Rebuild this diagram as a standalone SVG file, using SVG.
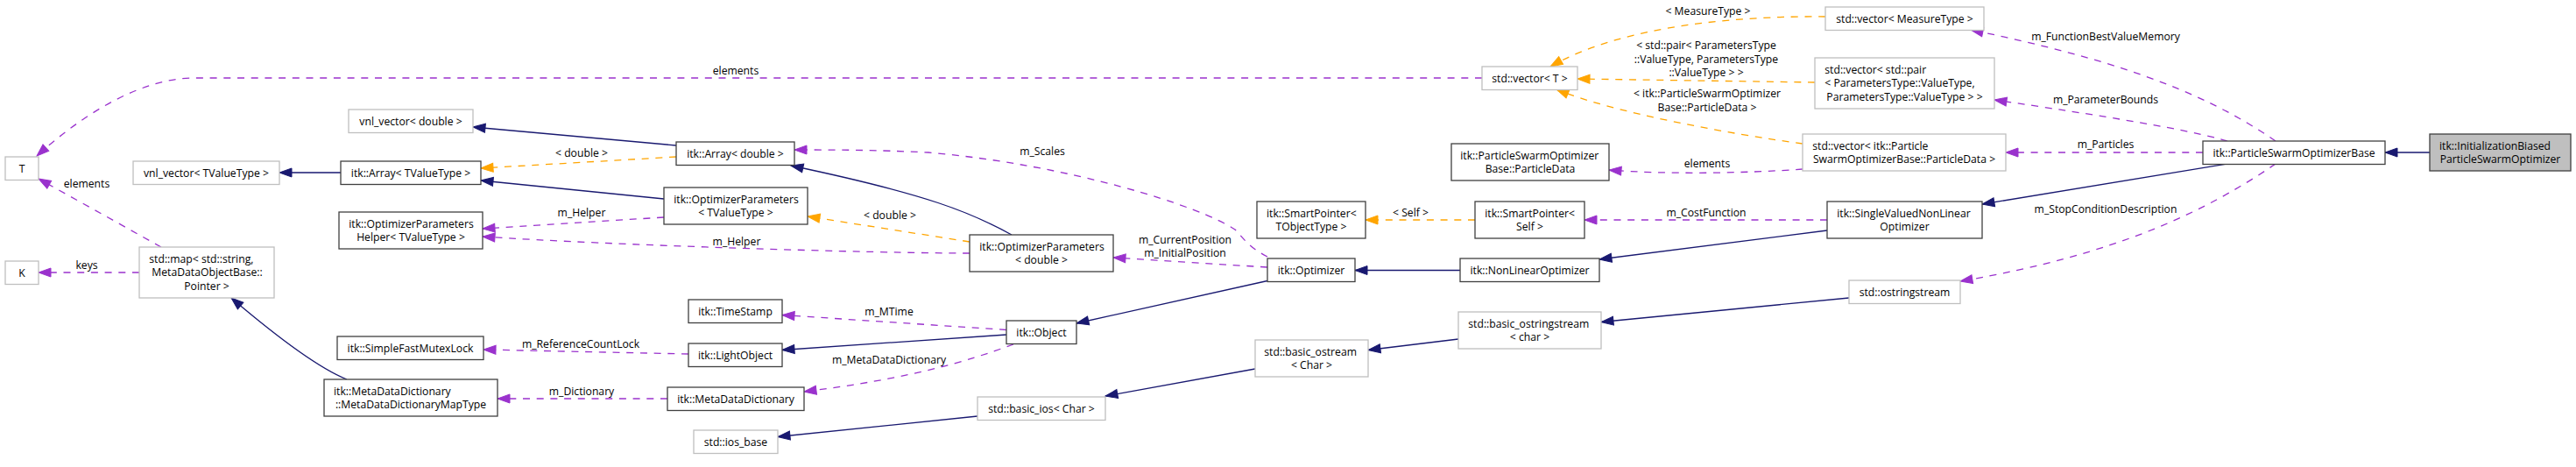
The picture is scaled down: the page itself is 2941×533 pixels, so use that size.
<svg xmlns="http://www.w3.org/2000/svg" width="2941" height="533" viewBox="0 0 2941 533">
<style>
text{font-family:"Open Sans","DejaVu Sans",sans-serif;font-size:12.2px;fill:#000}
.c{text-anchor:middle}
.n rect{fill:#fff;stroke:#404040;stroke-width:1.3}
.n.u rect{stroke:#bfbfbf}
.n.h rect{fill:#bfbfbf}
.e path{fill:none;stroke-width:1.3}
.inh{stroke:#191970;marker-end:url(#aI)}
.use{stroke:#9a32cd;stroke-dasharray:8,7.7;marker-end:url(#aU)}
.tpl{stroke:#ffa500;stroke-dasharray:8,7.7;marker-end:url(#aT)}
</style>
<defs>
<marker id="aI" markerUnits="userSpaceOnUse" markerWidth="16" markerHeight="12" refX="14" refY="5" orient="auto" overflow="visible"><path d="M0,0L14,5L0,10Z" fill="#191970" stroke="#191970" stroke-width="1"/></marker>
<marker id="aU" markerUnits="userSpaceOnUse" markerWidth="16" markerHeight="12" refX="14" refY="5" orient="auto" overflow="visible"><path d="M0,0L14,5L0,10Z" fill="#9a32cd" stroke="#9a32cd" stroke-width="1"/></marker>
<marker id="aT" markerUnits="userSpaceOnUse" markerWidth="16" markerHeight="12" refX="14" refY="5" orient="auto" overflow="visible"><path d="M0,0L14,5L0,10Z" fill="#ffa500" stroke="#ffa500" stroke-width="1"/></marker>
</defs>
<rect width="2941" height="533" fill="#fff"/>
<g id="edges" class="e">
<path class="inh" d="M2774,174L2723,174"/>
<path class="inh" d="M2543,187L2263,233"/>
<path class="inh" d="M2086,263L1826,296"/>
<path class="inh" d="M1667,308.5L1547,308.5"/>
<path class="inh" d="M1447,320.5L1229,369"/>
<path class="inh" d="M1149,382L893,399.5"/>
<path class="use" d="M1149,376.5L893,359.5"/>
<path class="use" d="M1157,393C1105,412 1040,432 918,447"/>
<path class="use" d="M762,455L568,455"/>
<path class="use" d="M786,404L552,399"/>
<path class="inh" d="M396,433C366,421 318,386 264,340"/>
<path class="use" d="M184,282L44,204"/>
<path class="use" d="M159,311L44,311"/>
<path class="use" d="M1692,89L220,89C160,90 95,130 42,178"/>
<path class="tpl" d="M2084,19C1980,18 1850,30 1770,76"/>
<path class="tpl" d="M2072,94L1801,90"/>
<path class="tpl" d="M2058,164C1970,152 1840,128 1777,102"/>
<path class="use" d="M2598,161C2510,100 2400,65 2250,34"/>
<path class="use" d="M2543,161C2500,148 2400,132 2277,114"/>
<path class="use" d="M2515,174L2290,174"/>
<path class="use" d="M2598,187C2520,240 2420,290 2238,321"/>
<path class="use" d="M2058,193C1990,198 1900,199 1837,194"/>
<path class="use" d="M2086,251L1809,251"/>
<path class="tpl" d="M1684,251L1559,251"/>
<path class="inh" d="M2111,340L1828,367.5"/>
<path class="inh" d="M1665,387L1562,399.5"/>
<path class="inh" d="M1433,421L1262,452"/>
<path class="inh" d="M1116,475L888,498.5"/>
<path class="use" d="M1447,305L1271,294"/>
<path class="use" d="M1447,293C1425,282 1420,272 1410,262C1370,235 1220,188 1060,174C1000,171 950,171 907,171"/>
<path class="inh" d="M1155,268C1110,243 1060,222 903,189"/>
<path class="tpl" d="M1107,276L922,247"/>
<path class="use" d="M1107,289C1000,289 700,280 551,270"/>
<path class="use" d="M758,248L551,261"/>
<path class="inh" d="M758,227L549,206"/>
<path class="tpl" d="M772,179L549,192"/>
<path class="inh" d="M772,166L540,145"/>
<path class="inh" d="M389,197L319,197"/>
<text class="c" x="1015" y="360">m_MTime</text>
<text class="c" x="1015" y="415">m_MetaDataDictionary</text>
<text class="c" x="664" y="451">m_Dictionary</text>
<text class="c" x="663" y="397">m_ReferenceCountLock</text>
<text class="c" x="99" y="214">elements</text>
<text class="c" x="99" y="307">keys</text>
<text class="c" x="840" y="85">elements</text>
<text class="c" x="1950" y="16.5">&lt; MeasureType &gt;</text>
<text class="c" x="1948" y="56">&lt; std::pair&lt; ParametersType</text>
<text class="c" x="1948" y="71.6">::ValueType, ParametersType</text>
<text class="c" x="1948" y="87">::ValueType &gt; &gt;</text>
<text class="c" x="1949" y="111">&lt; itk::ParticleSwarmOptimizer</text>
<text class="c" x="1949" y="126.6">Base::ParticleData &gt;</text>
<text class="c" x="2404" y="46">m_FunctionBestValueMemory</text>
<text class="c" x="2404" y="117.6">m_ParameterBounds</text>
<text class="c" x="2404" y="169">m_Particles</text>
<text class="c" x="2404" y="243">m_StopConditionDescription</text>
<text class="c" x="1949" y="191">elements</text>
<text class="c" x="1948" y="247">m_CostFunction</text>
<text class="c" x="1610.5" y="246.6">&lt; Self &gt;</text>
<text class="c" x="1353" y="277.6">m_CurrentPosition</text>
<text class="c" x="1353" y="293.3">m_InitialPosition</text>
<text class="c" x="1190" y="176.6">m_Scales</text>
<text class="c" x="1016" y="250">&lt; double &gt;</text>
<text class="c" x="841" y="279.6">m_Helper</text>
<text class="c" x="664" y="247">m_Helper</text>
<text class="c" x="664" y="179">&lt; double &gt;</text>
</g>
<g id="InitializationBiasedParticleSwarmOptimizer" class="n h"><rect x="2774" y="153" width="161" height="42"/><text x="2785" y="170.5">itk::InitializationBiased</text><text class="c" x="2854.5" y="186">ParticleSwarmOptimizer</text></g>
<g id="ParticleSwarmOptimizerBase" class="n"><rect x="2515" y="161" width="208" height="26.5"/><text class="c" x="2619" y="178.5">itk::ParticleSwarmOptimizerBase</text></g>
<g id="vectorMeasureType" class="n u"><rect x="2084" y="8" width="181" height="26.5"/><text class="c" x="2174.5" y="25.5">std::vector&lt; MeasureType &gt;</text></g>
<g id="vectorPair" class="n u"><rect x="2072" y="66" width="205" height="58"/><text x="2083.3" y="83.6">std::vector&lt; std::pair</text><text x="2083.3" y="99.3">&lt; ParametersType::ValueType,</text><text class="c" x="2174.5" y="115">ParametersType::ValueType &gt; &gt;</text></g>
<g id="vectorParticleData" class="n u"><rect x="2058" y="153" width="232" height="42"/><text x="2069.3" y="170.5">std::vector&lt; itk::Particle</text><text class="c" x="2174" y="186">SwarmOptimizerBase::ParticleData &gt;</text></g>
<g id="SingleValuedNonLinearOptimizer" class="n"><rect x="2086" y="230" width="177" height="42"/><text x="2097.3" y="247.5">itk::SingleValuedNonLinear</text><text class="c" x="2174.5" y="263">Optimizer</text></g>
<g id="ostringstream" class="n u"><rect x="2111" y="320" width="127" height="26.5"/><text class="c" x="2174.5" y="337.5">std::ostringstream</text></g>
<g id="vectorT" class="n u"><rect x="1692" y="76" width="109" height="26.5"/><text class="c" x="1746.5" y="93.5">std::vector&lt; T &gt;</text></g>
<g id="ParticleData" class="n"><rect x="1657" y="164" width="180" height="42"/><text x="1667.3" y="181.5">itk::ParticleSwarmOptimizer</text><text class="c" x="1747" y="197">Base::ParticleData</text></g>
<g id="SmartPointerSelf" class="n"><rect x="1684" y="230" width="125" height="42"/><text x="1695.3" y="247.5">itk::SmartPointer&lt;</text><text class="c" x="1746.5" y="263">Self &gt;</text></g>
<g id="NonLinearOptimizer" class="n"><rect x="1667" y="295" width="159" height="26.5"/><text class="c" x="1746.5" y="312.5">itk::NonLinearOptimizer</text></g>
<g id="basic_ostringstream" class="n u"><rect x="1665" y="356" width="163" height="42"/><text x="1676.3" y="373.5">std::basic_ostringstream</text><text class="c" x="1746.5" y="389">&lt; char &gt;</text></g>
<g id="SmartPointerTObjectType" class="n"><rect x="1435" y="230" width="124" height="42"/><text x="1446" y="247.5">itk::SmartPointer&lt;</text><text class="c" x="1497" y="263">TObjectType &gt;</text></g>
<g id="Optimizer" class="n"><rect x="1447" y="295" width="100" height="26.5"/><text class="c" x="1497" y="312.5">itk::Optimizer</text></g>
<g id="basic_ostream" class="n u"><rect x="1433" y="388" width="129" height="42"/><text x="1443.3" y="405.5">std::basic_ostream</text><text class="c" x="1497.5" y="421">&lt; Char &gt;</text></g>
<g id="OptimizerParametersDouble" class="n"><rect x="1107" y="268" width="164" height="42"/><text x="1118.3" y="285.5">itk::OptimizerParameters</text><text class="c" x="1189" y="301">&lt; double &gt;</text></g>
<g id="Object" class="n"><rect x="1149" y="366" width="80" height="26.5"/><text class="c" x="1189" y="383.5">itk::Object</text></g>
<g id="basic_ios" class="n u"><rect x="1116" y="453" width="146" height="26.5"/><text class="c" x="1189" y="470.5">std::basic_ios&lt; Char &gt;</text></g>
<g id="ArrayDouble" class="n"><rect x="772" y="162" width="135" height="26.5"/><text class="c" x="839.5" y="179.5">itk::Array&lt; double &gt;</text></g>
<g id="OptimizerParametersTValueType" class="n"><rect x="758" y="214" width="164" height="42"/><text x="769.3" y="231.5">itk::OptimizerParameters</text><text class="c" x="840" y="247">&lt; TValueType &gt;</text></g>
<g id="TimeStamp" class="n"><rect x="786" y="342" width="107" height="26.5"/><text class="c" x="839.5" y="359.5">itk::TimeStamp</text></g>
<g id="LightObject" class="n"><rect x="786" y="392" width="107" height="26.5"/><text class="c" x="839.5" y="409.5">itk::LightObject</text></g>
<g id="MetaDataDictionary" class="n"><rect x="762" y="442" width="156" height="26.5"/><text class="c" x="840" y="459.5">itk::MetaDataDictionary</text></g>
<g id="ios_base" class="n u"><rect x="792" y="491" width="96" height="26.5"/><text class="c" x="840" y="508.5">std::ios_base</text></g>
<g id="vnlVectorDouble" class="n u"><rect x="398" y="125" width="142" height="26.5"/><text class="c" x="469" y="142.5">vnl_vector&lt; double &gt;</text></g>
<g id="ArrayTValueType" class="n"><rect x="389" y="184" width="160" height="26.5"/><text class="c" x="469" y="201.5">itk::Array&lt; TValueType &gt;</text></g>
<g id="OptimizerParametersHelper" class="n"><rect x="387" y="242" width="164" height="42"/><text x="398.3" y="259.5">itk::OptimizerParameters</text><text class="c" x="469" y="275">Helper&lt; TValueType &gt;</text></g>
<g id="SimpleFastMutexLock" class="n"><rect x="385" y="384" width="167" height="26.5"/><text class="c" x="468.5" y="401.5">itk::SimpleFastMutexLock</text></g>
<g id="MetaDataDictionaryMapType" class="n"><rect x="370" y="433" width="198" height="42"/><text x="381" y="450.5">itk::MetaDataDictionary</text><text class="c" x="469" y="466">::MetaDataDictionaryMapType</text></g>
<g id="vnlVectorTValueType" class="n u"><rect x="152" y="184" width="167" height="26.5"/><text class="c" x="235.5" y="201.5">vnl_vector&lt; TValueType &gt;</text></g>
<g id="stdMap" class="n u"><rect x="159" y="282" width="154" height="58"/><text x="170.3" y="299.6">std::map&lt; std::string,</text><text x="173.3" y="315.3">MetaDataObjectBase::</text><text class="c" x="236" y="331">Pointer &gt;</text></g>
<g id="T" class="n u"><rect x="6" y="179" width="38" height="26.5"/><text class="c" x="25" y="196.5">T</text></g>
<g id="K" class="n u"><rect x="6" y="298" width="38" height="26.5"/><text class="c" x="25" y="315.5">K</text></g>
</svg>
